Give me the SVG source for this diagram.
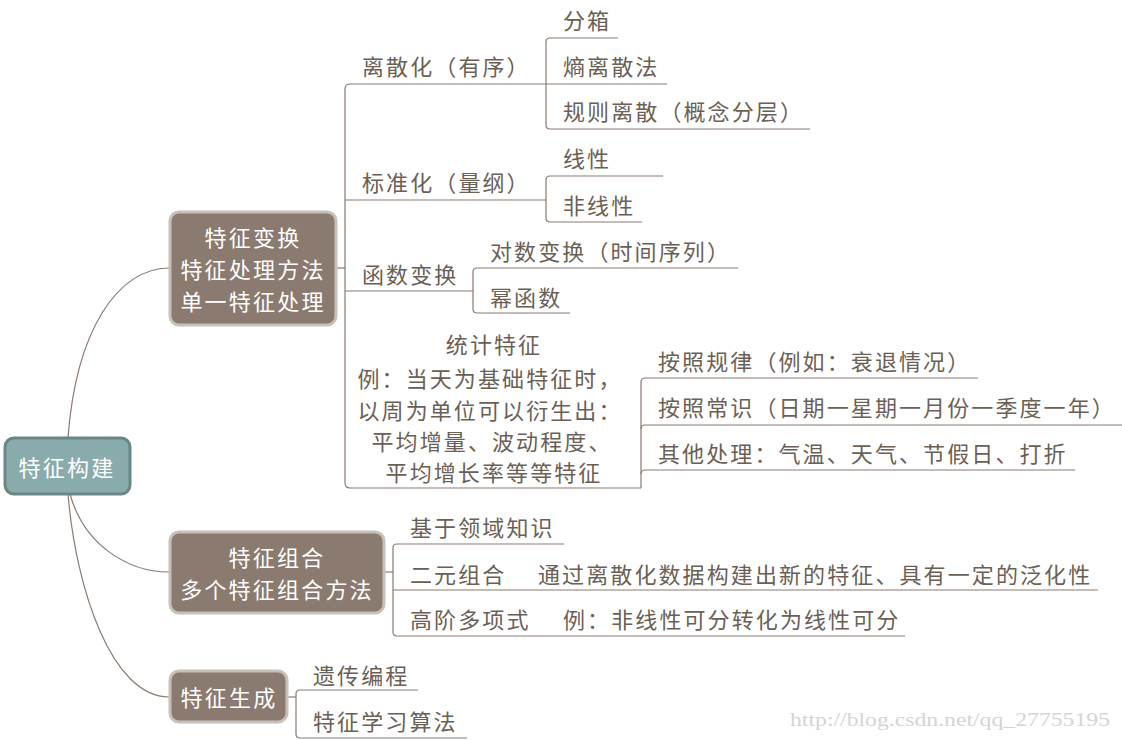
<svg xmlns="http://www.w3.org/2000/svg" width="1122" height="740" viewBox="0 0 1122 740">
<style>
text{text-spacing-trim:space-all}
.t{font-family:"Noto Sans CJK SC","Noto Sans",sans-serif;font-size:22px;fill:#6b5f56;dominant-baseline:central;letter-spacing:2.1px}
.n{font-family:"Noto Sans CJK SC","Noto Sans",sans-serif;font-size:22px;fill:#ffffff;dominant-baseline:central;text-anchor:middle;letter-spacing:2.2px}
.c{fill:none;stroke:#8b7b70;stroke-width:1.2}
.box{fill:#8b7a6f;stroke:#c9c0b8;stroke-width:3}
</style>
<rect width="1122" height="740" fill="#ffffff"/>
<g id="connectors">
<path class="c" d="M68,438 C76,330 118,268 169,268"/>
<path class="c" d="M70,494 C84,545 128,572 169,572"/>
<path class="c" d="M68,494 C76,590 112,697 169,697"/>
<path class="c" d="M336,268 H345"/>
<path class="c" d="M546,84 H350 Q345,84 345,89 V483 Q345,488 350,488 H641"/>
<path class="c" d="M345,200 H546"/>
<path class="c" d="M345,291 H473"/>
<path class="c" d="M618,38 H550 Q546,38 546,42 V125 Q546,129 550,129 H810"/>
<path class="c" d="M546,84 H667"/>
<path class="c" d="M663,176 H550 Q546,176 546,180 V218 Q546,222 550,222 H642"/>
<path class="c" d="M738,268 H477 Q473,268 473,272 V309 Q473,313 477,313 H570"/>
<path class="c" d="M978,378 H645 Q641,378 641,382 V488"/>
<path class="c" d="M641,429 Q641,425 645,425 H1122"/>
<path class="c" d="M641,474 Q641,470 645,470 H1075"/>
<path class="c" d="M385,572 H393"/>
<path class="c" d="M564,544 H397 Q393,544 393,548 V632 Q393,636 397,636 H905"/>
<path class="c" d="M393,590 H1098"/>
<path class="c" d="M287,697 H296"/>
<path class="c" d="M418,690 H300 Q296,690 296,694 V734 Q296,738 300,738 H467"/>
</g>
<g id="root">
<rect x="5" y="438" width="125" height="56" rx="9" fill="#8aabab" stroke="#6b8685" stroke-width="3"/>
<text class="n" x="67" y="466">特征构建</text>
</g>
<g id="node-transform">
<rect class="box" x="170" y="212" width="166" height="113" rx="9"/>
<text class="n" x="253" y="236">特征变换</text>
<text class="n" x="253" y="268">特征处理方法</text>
<text class="n" x="253" y="300">单一特征处理</text>
</g>
<g id="node-combine">
<rect class="box" x="170" y="532" width="214" height="81" rx="9"/>
<text class="n" x="277" y="556">特征组合</text>
<text class="n" x="277" y="588">多个特征组合方法</text>
</g>
<g id="node-generate">
<rect class="box" x="170" y="671" width="117" height="51" rx="9"/>
<text class="n" x="229" y="696">特征生成</text>
</g>
<g id="labels">
<text class="t" x="362" y="65">离散化（有序）</text>
<text class="t" x="563" y="19">分箱</text>
<text class="t" x="563" y="65">熵离散法</text>
<text class="t" x="563" y="110">规则离散（概念分层）</text>
<text class="t" x="362" y="181">标准化（量纲）</text>
<text class="t" x="563" y="157">线性</text>
<text class="t" x="563" y="204">非线性</text>
<text class="t" x="362" y="273">函数变换</text>
<text class="t" x="490" y="250">对数变换（时间序列）</text>
<text class="t" x="490" y="296">幂函数</text>
<g text-anchor="middle">
<text class="t" x="494" y="343">统计特征</text>
<text class="t" x="490" y="377">例：当天为基础特征时，</text>
<text class="t" x="490" y="409">以周为单位可以衍生出：</text>
<text class="t" x="492" y="440">平均增量、波动程度、</text>
<text class="t" x="494" y="471">平均增长率等等特征</text>
</g>
<text class="t" x="658" y="360">按照规律（例如：衰退情况）</text>
<text class="t" x="658" y="406">按照常识（日期一星期一月份一季度一年）</text>
<text class="t" x="658" y="452">其他处理：气温、天气、节假日、打折</text>
<text class="t" x="410" y="526">基于领域知识</text>
<text class="t" x="410" y="573">二元组合</text>
<text class="t" x="538" y="573">通过离散化数据构建出新的特征、具有一定的泛化性</text>
<text class="t" x="410" y="618">高阶多项式</text>
<text class="t" x="563" y="618">例：非线性可分转化为线性可分</text>
<text class="t" x="313" y="674">遗传编程</text>
<text class="t" x="313" y="720">特征学习算法</text>
</g>
<text x="790" y="726" font-family="'Liberation Serif',serif" font-size="18" fill="#d4d4d4" textLength="320" lengthAdjust="spacingAndGlyphs">http://blog.csdn.net/qq_27755195</text>
</svg>
